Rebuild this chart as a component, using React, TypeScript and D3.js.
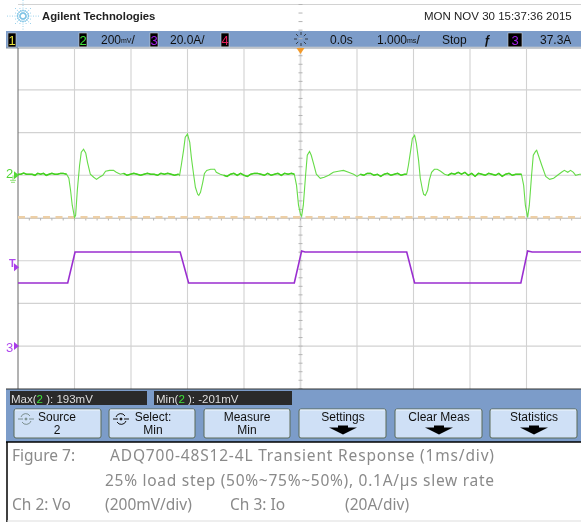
import React from 'react';
import * as d3 from 'd3';

const width = 581;
const height = 522;

// Ch 2 trace, [ms, mV]
const voStart = [[-5, 5], [-4.95, 5], [-4.9, 10], [-4.85, 5], [-4.8, 5], [-4.75, 5], [-4.7, 0], [-4.65, 9], [-4.6, 5], [-4.55, 9], [-4.5, 0], [-4.45, 5], [-4.4, 9], [-4.35, 5], [-4.3, 5], [-4.25, 9], [-4.2, 9], [-4.14, 5]];
const voFall1 = [[-4.1, -14], [-4.07, -70], [-4.04, -140], [-4, -197], [-3.98, -187], [-3.95, -70], [-3.91, 47], [-3.88, 108], [-3.84, 122], [-3.8, 103], [-3.77, 61], [-3.72, 5], [-3.66, -9], [-3.61, -19], [-3.56, -9], [-3.5, 0], [-3.45, 19], [-3.38, 23], [-3.31, 23], [-3.26, 14], [-3.19, 5]];
const voFlat1 = [[-3.13, 9], [-3.07, 0], [-3.01, 5], [-2.95, 9], [-2.89, 5], [-2.83, 0], [-2.77, 5], [-2.71, 9], [-2.65, 5], [-2.59, 5], [-2.53, 0], [-2.47, 9], [-2.41, 5], [-2.35, 9], [-2.29, 5], [-2.23, 0], [-2.16, 5]];
const voRise1 = [[-2.14, 0], [-2.11, 47], [-2.07, 117], [-2.04, 178], [-2, 193], [-1.96, 154], [-1.93, 80], [-1.89, 0], [-1.86, -56], [-1.82, -89], [-1.8, -94], [-1.77, -80], [-1.73, -33], [-1.7, 9], [-1.66, 23], [-1.59, 28], [-1.52, 28], [-1.49, 14], [-1.42, 5]];
const voFlat2 = [[-1.36, 0], [-1.3, -5], [-1.24, 5], [-1.18, 9], [-1.12, 0], [-1.06, 9], [-1, 0], [-0.94, -5], [-0.88, 5], [-0.82, 9], [-0.76, 9], [-0.7, 5], [-0.64, 0], [-0.58, 9], [-0.52, 0], [-0.46, 5], [-0.4, 9], [-0.34, 0], [-0.28, 9], [-0.22, 5], [-0.16, 9], [-0.11, 5]];
const voFall2 = [[-0.07, -47], [-0.035, -140], [0, -183], [0.02, -192], [0.05, -140], [0.09, 0], [0.12, 94], [0.16, 112], [0.19, 94], [0.23, 56], [0.28, 5], [0.35, -14], [0.42, -9], [0.5, 0], [0.58, 14], [0.67, 19], [0.76, 23], [0.85, 14], [0.94, 5], [1, -5]];
const voFlat3 = [[1.06, 5], [1.12, 0], [1.18, 9], [1.24, 9], [1.3, 0], [1.36, 5], [1.42, -5], [1.48, 5], [1.54, 9], [1.6, 0], [1.66, 5], [1.72, 9], [1.78, 0], [1.84, 5], [1.88, 5]];
const voRise2 = [[1.91, 47], [1.95, 117], [1.98, 173], [2.02, 187], [2.05, 150], [2.09, 70], [2.12, -14], [2.16, -70], [2.18, -89], [2.21, -94], [2.25, -70], [2.28, -23], [2.32, 14], [2.37, 28], [2.42, 28], [2.48, 19], [2.55, 5]];
const voFlat4 = [[2.61, 0], [2.67, 9], [2.73, 5], [2.79, 14], [2.85, 5], [2.91, 14], [2.97, 0], [3.03, 9], [3.09, -5], [3.15, 9], [3.21, 5], [3.27, 0], [3.33, 9], [3.39, 5], [3.45, 0], [3.51, 9], [3.57, -5], [3.63, 5], [3.69, 9], [3.75, 0], [3.81, 5], [3.91, 5]];
const voFall3 = [[3.95, -47], [3.98, -140], [4.02, -197], [4.05, -140], [4.09, 0], [4.12, 94], [4.16, 112], [4.18, 117], [4.21, 94], [4.27, 47], [4.34, -5], [4.41, -19], [4.48, -14], [4.55, 0], [4.62, 14], [4.67, 23], [4.73, 14], [4.78, 23], [4.83, 14], [4.87, 0], [4.94, 5], [5, 5]];

// Ch 3 trace, [ms, A]
const ioTrace = [[-5, 29.5], [-4.12, 29.5], [-3.99, 44], [-2.13, 44], [-1.98, 29.5], [-0.11, 29.5], [0.02, 44.5], [0.08, 44], [1.88, 44], [2.02, 29.5], [3.9, 29.5], [4.02, 44.5], [4.1, 44], [5, 44]];

const voTrace = [...voStart, ...voFall1, ...voFlat1, ...voRise1, ...voFlat2, ...voFall2, ...voFlat3, ...voRise2, ...voFlat4, ...voFall3];
const voFlats = [voStart, voFlat1, voFlat2, voFlat3, voFlat4];

const minMeasure = -201;
const triggerLevel = 37.3;

const timeDivs = d3.range(-5, 6);
const timeMinor = d3.range(-5, 5.01, 0.2);
const voltMinor = d3.range(-1000, 801, 40);
const voltDivs = d3.range(-800, 1001, 200);

const chBadges = [['1', '#e8e13a'], ['2', '#3fe23a'], ['3', '#a020e8'], ['4', '#e0205a']];
const menuButtons = ['Settings', 'Clear Meas', 'Statistics'];

const sans = '"Liberation Sans", Arial, sans-serif';
const capFont = '"Noto Sans", sans-serif';

const x = d3.scaleLinear().domain([-5, 5]).range([18, 583]);
const yVo = d3.scaleLinear().domain([0, 200]).range([175.3, 132.6]);
const yIo = d3.scaleLinear().domain([0, 20]).range([346, 303.3]);

const voLine = d3.line().x((d) => x(d[0])).y((d) => yVo(d[1]));
const ioLine = d3.line().x((d) => x(d[0])).y((d) => yIo(d[1]));

const Btn = ({ bx, w, children }: any) => (
    <g>
        <rect x={bx} y={409} width={w} height={29} rx={2} fill="#cfe0f6" stroke="#5c6a58" strokeWidth={1} />
        <line x1={bx + 1} x2={bx + w - 1} y1={410} y2={410} stroke="#eef5fd" />
        {children}
    </g>
);

const Arrow = ({ cx }: any) => (
    <path d={`M${cx - 14} 427.5h9v-2h10v2h9l-14 7z`} fill="#000" />
);

// entry knob icon on the softkeys
const Knob = ({ cx, color }: any) => (
    <g fill="none" stroke={color} strokeWidth={1}>
        <path d={`M${cx - 5} 417a5 5 0 0 1 9 -1M${cx + 5} 421a5 5 0 0 1 -9 1`} />
        <path d={`M${cx - 8} 419h5M${cx + 3} 419h5`} />
        <circle cx={cx} cy={419} r={1} fill={color} />
    </g>
);

export default function App() {
    // logo: dots along the rays, gap in the middle
    const burst = d3.range(0, 16).flatMap((i) => {
        const a = (i / 16) * 2 * Math.PI;
        const long = i % 4 === 0 ? 16 : i % 2 === 0 ? 12 : 9;
        return d3.range(3, long, 2.5).map((r) => ({
            cx: 23 + r * Math.cos(a),
            cy: 16 + r * Math.sin(a),
            r: r < 7 ? 0.9 : 0.5,
        }));
    });

    return (
        <svg width={width} height={height} style={{ position: 'absolute', left: 0, top: 0, background: '#fff' }} fontFamily={sans}>
            <defs>
                <filter id="soft" x="0" y="0" width="100%" height="100%">
                    <feGaussianBlur stdDeviation="0.4" />
                </filter>
            </defs>
            <g filter="url(#soft)">
                {/* logo and title */}
                {burst.map((d, i) => <circle key={i} cx={d.cx} cy={d.cy} r={d.r} fill="#7cc2e4" />)}
                <text x={42} y={20} fontSize={11.3} fontWeight="bold" fill="#222">Agilent Technologies</text>
                <text x={424} y={20} fontSize={11.5} fill="#222">MON NOV 30 15:37:36 2015</text>

                {/* top status bar */}
                <rect x={6} y={31} width={575} height={17} fill="#7b9cc9" />
                <line x1={6} x2={581} y1={48} y2={48} stroke="#8c949c" />
                {[8, 79, 150, 221].map((bx, i) => (
                    <g key={i}>
                        <rect x={bx} y={33} width={8} height={14} fill="#000" stroke="#c8d0d8" strokeWidth={0.6} />
                        <text x={bx + 4} y={45} fontSize={13} textAnchor="middle" fill={chBadges[i][1]}>{chBadges[i][0]}</text>
                    </g>
                ))}
                <g fontSize={12} fill="#111">
                    <text x={101} y={44}>200<tspan fontSize={7} dy={-1}>mV</tspan><tspan dy={1}>/</tspan></text>
                    <text x={170} y={44}>20.0A/</text>
                    <text x={330} y={44}>0.0s</text>
                    <text x={377} y={44}>1.000<tspan fontSize={7} dy={-1}>ms</tspan><tspan dy={1}>/</tspan></text>
                    <text x={442} y={44}>Stop</text>
                    <text x={484} y={44} fontWeight="bold">ƒ</text>
                    <text x={540} y={44}>37.3A</text>
                </g>
                <rect x={508} y={33} width={14} height={14} fill="#000" stroke="#c8d0d8" strokeWidth={0.6} />
                <text x={515} y={45} fontSize={13} textAnchor="middle" fill={chBadges[2][1]}>3</text>
                <g stroke="#222" strokeWidth={0.8}>
                    {d3.range(0, 8).map((i) => {
                        const a = (i / 8) * 2 * Math.PI;
                        return <line key={i} x1={301 + 4 * Math.cos(a)} y1={39 + 4 * Math.sin(a)} x2={301 + 7 * Math.cos(a)} y2={39 + 7 * Math.sin(a)} />;
                    })}
                </g>

                {/* graticule */}
                <g stroke="#d2d2d2" strokeWidth={1.1}>
                    {timeDivs.slice(1).map((t) => t !== 0 && <line key={t} x1={x(t)} x2={x(t)} y1={48} y2={389} />)}
                    {voltDivs.map((v) => <line key={v} x1={18} x2={581} y1={yVo(v)} y2={yVo(v)} />)}
                </g>
                <line x1={x(-5)} x2={x(-5)} y1={48} y2={389} stroke="#666" strokeWidth={1} />
                <line x1={x(0)} x2={x(0)} y1={48} y2={389} stroke="#dcdcdc" strokeWidth={1.8} />
                <line x1={18} x2={581} y1={yVo(-200) + 0.5} y2={yVo(-200) + 0.5} stroke="#c8c8c8" strokeWidth={1} />
                <g stroke="#b4b4b4" strokeWidth={1}>
                    {timeMinor.map((t) => <line key={t} x1={x(t)} x2={x(t)} y1={yVo(-200)} y2={yVo(-200) + 2.5} />)}
                    {voltMinor.map((v) => <line key={v} x1={x(0) - 2} x2={x(0) + 2} y1={yVo(v)} y2={yVo(v)} />)}
                </g>

                {/* min measurement cursor */}
                <line x1={18} x2={581} y1={yVo(minMeasure) - 1} y2={yVo(minMeasure) - 1} stroke="#edcfa6" strokeWidth={2.6} strokeDasharray="7 5.5" />

                {/* traces */}
                <path d={ioLine(ioTrace as any) as string} fill="none" stroke="#9a2fd0" strokeWidth={1.6} />
                <path d={voLine(voTrace as any) as string} fill="none" stroke="#66dc48" strokeWidth={1.1} />
                {voFlats.map((seg, i) => (
                    <path key={i} d={voLine(seg as any) as string} fill="none" stroke="#44d020" strokeWidth={1.5} />
                ))}

                {/* channel markers */}
                <text x={6} y={178} fontSize={13} fill="#52d636">2</text>
                <path d={`M14 ${yVo(0) - 4}l5 4l-5 4z`} fill="#52d636" />
                <path d={`M13 ${yVo(0)}v5M10 ${yVo(0) + 5}h6M11 ${yVo(0) + 7}h4`} stroke="#8fe076" strokeWidth={1} fill="none" />
                <text x={9} y={267} fontSize={11} fontWeight="bold" fill="#b04aee">T</text>
                <path d={`M14 ${yIo(triggerLevel) - 3}l5 4l-5 4z`} fill="#a83be8" />
                <text x={6} y={352} fontSize={13} fill="#b04aee">3</text>
                <path d={`M14 ${yIo(0) - 4}l5 4l-5 4z`} fill="#a83be8" />
                <path d={`M${x(0) - 4} 48h8l-4 6z`} fill="#f39a2c" />

                {/* measurement bar */}
                <rect x={6} y={389} width={575} height={53} fill="#7b9cc9" />
                <line x1={6} x2={581} y1={389} y2={389} stroke="#333" />
                <rect x={10} y={391} width={137} height={14} fill="#2a2a2a" />
                <rect x={154} y={391} width={138} height={14} fill="#2a2a2a" />
                <g fontSize={11.5} fill="#ddd">
                    <text x={11} y={402.5}>Max(<tspan fill="#3fe23a">2</tspan> ): 193mV</text>
                    <text x={156} y={402.5}>Min(<tspan fill="#3fe23a">2</tspan> ): -201mV</text>
                </g>

                <g fontSize={12} fill="#111" textAnchor="middle">
                    <Btn bx={14} w={87}>
                        <text x={57} y={421}>Source</text>
                        <text x={57} y={434}>2</text>
                        <Knob cx={26} color="#7d9090" />
                    </Btn>
                    <Btn bx={109} w={86}>
                        <text x={153} y={421}>Select:</text>
                        <text x={153} y={434}>Min</text>
                        <Knob cx={121} color="#111" />
                    </Btn>
                    <Btn bx={204} w={86}>
                        <text x={247} y={421}>Measure</text>
                        <text x={247} y={434}>Min</text>
                    </Btn>
                    {menuButtons.map((label, i) => {
                        const bx = [299, 395, 490][i];
                        return (
                            <Btn key={label} bx={bx} w={87}>
                                <text x={bx + 44} y={421}>{label}</text>
                                <Arrow cx={bx + 44} />
                            </Btn>
                        );
                    })}
                </g>

                {/* caption */}
                <line x1={6} x2={581} y1={442} y2={442} stroke="#000" strokeWidth={1.5} />
                <line x1={7} x2={7} y1={442} y2={522} stroke="#000" strokeWidth={1.5} />
                <line x1={7} x2={581} y1={521} y2={521} stroke="#ddd" />
                <g fontFamily={capFont} fontSize={15.5} fill="#8a8a8a">
                    <text x={12} y={461}>Figure 7:</text>
                    <text x={110} y={461} textLength={384}>ADQ700-48S12-4L Transient Response (1ms/div)</text>
                    <text x={105} y={486} textLength={389}>25% load step (50%~75%~50%), 0.1A/µs slew rate</text>
                    <text x={12} y={510}>Ch 2: Vo</text>
                    <text x={105} y={510}>(200mV/div)</text>
                    <text x={230} y={510}>Ch 3: Io</text>
                    <text x={345} y={510}>(20A/div)</text>
                </g>
            </g>
        </svg>
    );
}
